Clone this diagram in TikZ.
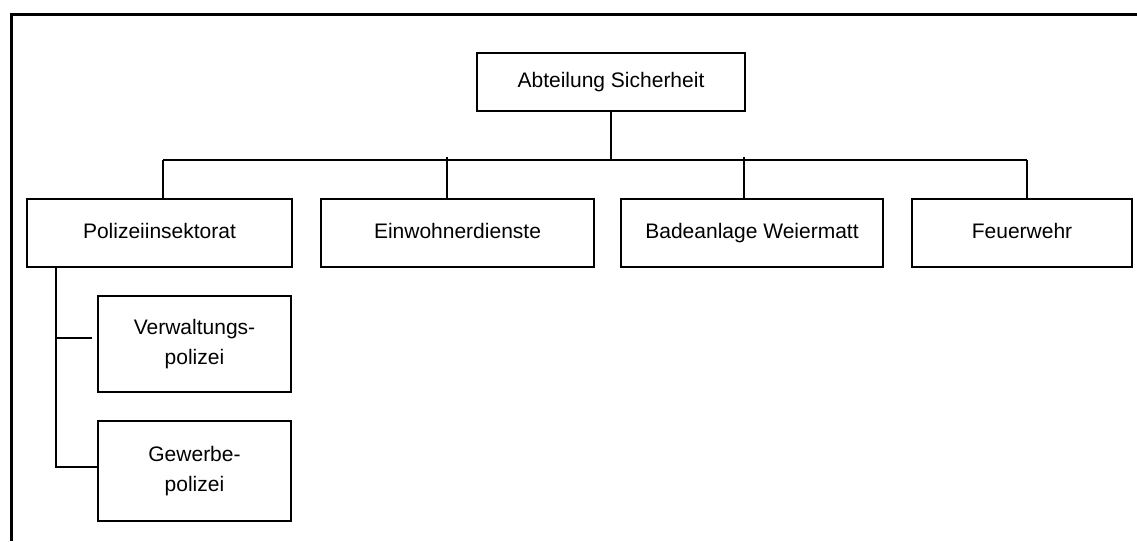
\documentclass[tikz,border=0pt]{standalone}
\usepackage{fontspec}
\setmainfont{Liberation Sans}
\usetikzlibrary{positioning}

\begin{document}
\begin{tikzpicture}
		[x=1pt,y=-1pt,
		unit/.style={rectangle,draw=black,line width=2pt,inner sep=0pt,minimum height=68pt,
			font=\fontsize{21}{30}\selectfont,align=center},
		oneline/.style={unit,text height=15pt,text depth=4pt},
		subunit/.style={unit,minimum width=193pt},
		link/.style={draw=black,line width=2pt},
		frame/.style={draw=black,line width=3pt}]
		\useasboundingbox (0,0) rectangle (1137,541);
		\draw [frame] (11,541) -- (11,14) -- (1137,14);

		\node [oneline, minimum width=268pt, minimum height=58pt] (abt) at (611,82) {Abteilung Sicherheit};

		\node [oneline, minimum width=265pt] (pol) at (159.5,233) {Polizeiinsektorat};
		\node [oneline, minimum width=273pt] (einw) [right=27pt of pol] {Einwohnerdienste};
		\node [oneline, minimum width=262pt] (bad) [right=25pt of einw] {Badeanlage Weiermatt};
		\node [oneline, minimum width=220pt] (feu) [right=27pt of bad] {Feuerwehr};

		\node [subunit, minimum height=96pt] (verw) at (194.5,344) {Verwaltungs-\\polizei};
		\node [subunit, minimum height=100pt] (gew) [below=27pt of verw] {Gewerbe-\\polizei};

		% Sammelschiene
		\coordinate (busL) at (163,160);
		\coordinate (busR) at (1027,160);
		\coordinate (dEinw) at (447,157);
		\coordinate (dBad) at (744,157);
		\draw [link] (abt.south) -- (abt.south |- busL);
		\draw [link] (busL) -- (busR);
		\draw [link] (busL) -- (busL |- pol.north);
		\draw [link] (dEinw) -- (dEinw |- einw.north);
		\draw [link] (dBad) -- (dBad |- bad.north);
		\draw [link] (busR) -- (busR |- feu.north);

		% Polizei
		\coordinate (sp) at ([xshift=30pt]pol.south west);
		\coordinate (vb) at ([xshift=-5pt,yshift=6pt]verw.west);
		\coordinate (gb) at ([yshift=4pt]gew.west);
		\draw [link] (sp) -- (sp |- gb) -- (gb);
		\draw [link] (sp |- vb) -- (vb);

	\end{tikzpicture}
\end{document}
